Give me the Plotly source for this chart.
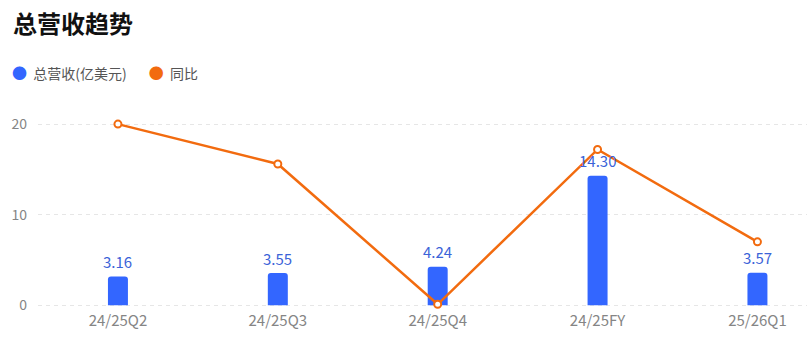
import plotly.graph_objects as go

categories = ["24/25Q2", "24/25Q3", "24/25Q4", "24/25FY", "25/26Q1"]
revenue = [3.16, 3.55, 4.24, 14.30, 3.57]
yoy = [20.0, 15.6, 0.1, 17.2, 7.0]
y_ticks = [0, 10, 20]

FONT = "Noto Sans CJK SC, Noto Sans, sans-serif"
BLUE = "#3366ff"
ORANGE = "#f26b0f"
LABEL_BLUE = "#3b63d8"
GRAY = "#858585"

ML, MR, MT, MB = 38, 3, 106, 48
PW, PH = 810 - ML - MR, 355 - MT - MB

fig = go.Figure()
fig.add_trace(go.Bar(
    x=categories, y=revenue, name="总营收(亿美元)",
    marker=dict(color=BLUE, line=dict(width=0)),
    width=0.125, showlegend=False, hoverinfo="skip",
))
fig.add_trace(go.Scatter(
    x=categories, y=yoy, name="同比", mode="lines+markers",
    line=dict(color=ORANGE, width=2.5),
    marker=dict(symbol="circle", size=7, color="white",
                line=dict(color=ORANGE, width=2)),
    showlegend=False, cliponaxis=False, hoverinfo="skip",
))

for c, v in zip(categories, revenue):
    fig.add_annotation(x=c, y=v, text=f"{v:.2f}", showarrow=False,
                       yanchor="middle", yshift=15,
                       font=dict(family=FONT, size=15, color=LABEL_BLUE))

# title
fig.add_annotation(xref="paper", yref="paper",
                   x=(11 - ML) / PW, y=1 + (MT - 22) / PH,
                   xanchor="left", yanchor="middle", showarrow=False,
                   text="<b>总营收趋势</b>",
                   font=dict(family=FONT, size=24, color="#111111"))
# legend
fig.add_annotation(xref="paper", yref="paper",
                   x=(10 - ML) / PW, y=1 + (MT - 72) / PH,
                   xanchor="left", yanchor="middle", showarrow=False,
                   text=f"<span style='color:{BLUE};font-size:15px'>●</span>  总营收(亿美元)"
                        f"       <span style='color:{ORANGE};font-size:15px'>●</span>  同比",
                   font=dict(family=FONT, size=14, color="#555555"))

fig.update_layout(
    width=810, height=355,
    margin=dict(l=ML, r=MR, t=MT, b=MB),
    paper_bgcolor="white", plot_bgcolor="white",
    font=dict(family=FONT),
    barcornerradius=3,
    showlegend=False,
    xaxis=dict(
        type="category", range=[-0.5, 4.31],
        showgrid=False, zeroline=False, showline=False,
        ticks="", tickfont=dict(family=FONT, size=15, color=GRAY),
        ticklabelstandoff=3,
    ),
    yaxis=dict(
        range=[-0.2, 22], tickvals=y_ticks,
        showgrid=True, gridcolor="#e6e6e6", griddash="4px,4px", gridwidth=1,
        zeroline=False, showline=False, ticks="",
        tickfont=dict(family=FONT, size=14, color=GRAY),
        ticklabelstandoff=10,
    ),
)

fig.write_html("out.html")
